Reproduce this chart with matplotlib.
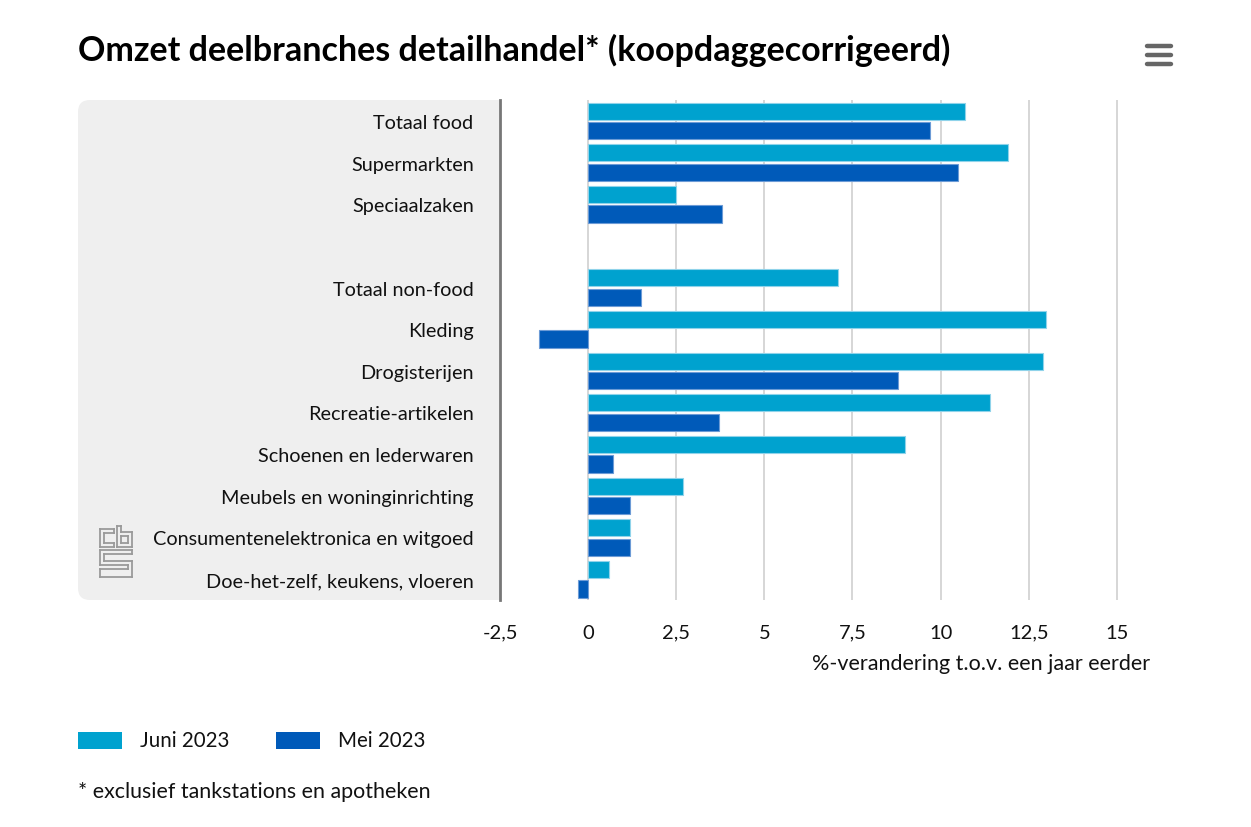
import numpy as np
import matplotlib
matplotlib.use("Agg")
import matplotlib.pyplot as plt
from matplotlib.patches import FancyBboxPatch, Rectangle
from matplotlib.transforms import IdentityTransform
from matplotlib.lines import Line2D

# ---- data ----
categories = ["Totaal food", "Supermarkten", "Speciaalzaken", "",
              "Totaal non-food", "Kleding", "Drogisterijen", "Recreatie-artikelen",
              "Schoenen en lederwaren", "Meubels en woninginrichting",
              "Consumentenelektronica en witgoed", "Doe-het-zelf, keukens, vloeren"]
juni_2023 = [10.7, 11.9, 2.5, np.nan, 7.1, 13.0, 12.9, 11.4, 9.0, 2.7, 1.2, 0.6]
mei_2023 = [9.7, 10.5, 3.8, np.nan, 1.5, -1.4, 8.8, 3.7, 0.7, 1.2, 1.2, -0.3]
series_names = ["Juni 2023", "Mei 2023"]
xticks = [-2.5, 0, 2.5, 5, 7.5, 10, 12.5, 15]
xtick_labels = ["-2,5", "0", "2,5", "5", "7,5", "10", "12,5", "15"]

title = "Omzet deelbranches detailhandel* (koopdaggecorrigeerd)"
xlabel = "%-verandering t.o.v. een jaar eerder"
footnote = "* exclusief tankstations en apotheken"

c_juni = "#00A2CF"
c_mei = "#005AB9"

W, H = 1251, 828
plt.rcParams['font.family'] = ['Lato', 'DejaVu Sans']
fig = plt.figure(figsize=(W / 100, H / 100), dpi=100)

def fx(px):
    return px / W

def fy(py):
    return 1 - py / H

# plot area
left, right, top, bottom = 500, 1150, 101, 601
ax = fig.add_axes([fx(left), fy(bottom), fx(right) - fx(left), fy(top) - fy(bottom)])
ax.set_facecolor("white")

# grey label panel
panel = FancyBboxPatch((78, H - bottom), left - 78 + 20, bottom - top,
                       boxstyle="round,pad=0,rounding_size=12",
                       transform=IdentityTransform(), facecolor="#EFEFEF",
                       edgecolor="none", zorder=-1)
fig.patches.append(panel)

y = np.arange(len(categories))
bh = 0.41
off = 0.235
ax.barh(y - off, juni_2023, height=bh, color=c_juni, edgecolor="#8FD3EA",
        linewidth=0.8, label=series_names[0], zorder=3)
ax.barh(y + off, mei_2023, height=bh, color=c_mei, edgecolor="#6C9BD6",
        linewidth=0.8, label=series_names[1], zorder=3)

ax.set_ylim(len(categories) - 0.5, -0.5)
ax.set_xlim(-2.5, 15.94)
ax.set_yticks(y)
ax.set_yticklabels(categories, fontsize=14.3, color="#111111")
ax.tick_params(axis="y", length=0, pad=19)
ax.set_xticks(xticks)
ax.set_xticklabels(xtick_labels, fontsize=14.5, color="#111111")
ax.tick_params(axis="x", length=0, pad=17)
for t in xticks:
    if t != -2.5:
        ax.axvline(t, color="#CCCCCC", linewidth=1.1, zorder=1)

for s in ["top", "right", "bottom"]:
    ax.spines[s].set_visible(False)
ax.spines["left"].set_color("#777777")
ax.spines["left"].set_linewidth(2)

# axis title
fig.text(fx(1150), fy(664), xlabel, ha="right", va="center", fontsize=15.5, color="#111111")

# title
fig.text(fx(78), fy(50), title, ha="left", va="center", fontsize=24.5, fontweight="bold",
         color="#000000")

# hamburger menu
for yy in (47, 56, 65):
    fig.add_artist(Line2D([fx(1147), fx(1171)], [fy(yy), fy(yy)], color="#666666",
                          linewidth=3.2, solid_capstyle="round"))

# simplified CBS logo
logo_col = "#9A9A9A"
lw = 1.3
def seg(x0, y0, x1, y1):
    fig.add_artist(Line2D([fx(x0), fx(x1)], [fy(y0), fy(y1)], color=logo_col, linewidth=lw))
# "c"
for (a, b, c, d) in [(100, 530, 114, 530), (100, 530, 100, 548), (100, 548, 114, 548),
                     (104, 534, 114, 534), (104, 534, 104, 544), (104, 544, 114, 544),
                     (114, 530, 114, 534), (114, 544, 114, 548)]:
    seg(a, b, c, d)
# "b"
for (a, b, c, d) in [(117, 527, 121, 527), (117, 527, 117, 548), (117, 548, 132, 548),
                     (132, 548, 132, 533), (132, 533, 121, 533), (121, 533, 121, 527),
                     (121, 537, 128, 537), (128, 537, 128, 544), (128, 544, 121, 544),
                     (121, 544, 121, 537)]:
    seg(a, b, c, d)
# "s"
for (a, b, c, d) in [(100, 551, 132, 551), (100, 551, 100, 566), (100, 566, 128, 566),
                     (128, 566, 128, 570), (128, 570, 100, 570), (100, 570, 100, 578),
                     (100, 578, 132, 578), (132, 578, 132, 562), (132, 562, 104, 562),
                     (104, 562, 104, 555), (104, 555, 132, 555), (132, 555, 132, 551)]:
    seg(a, b, c, d)

# legend
fig.patches.append(Rectangle((78, H - 750), 44, 17, transform=IdentityTransform(),
                             facecolor=c_juni, edgecolor="none"))
fig.text(fx(140), fy(741), series_names[0], ha="left", va="center", fontsize=14.8, color="#111111")
fig.patches.append(Rectangle((276, H - 750), 44, 17, transform=IdentityTransform(),
                             facecolor=c_mei, edgecolor="none"))
fig.text(fx(338), fy(741), series_names[1], ha="left", va="center", fontsize=14.8, color="#111111")

# footnote
fig.text(fx(78), fy(792), footnote, ha="left", va="center", fontsize=15.4, color="#111111")

fig.savefig("out.png", dpi=100)
